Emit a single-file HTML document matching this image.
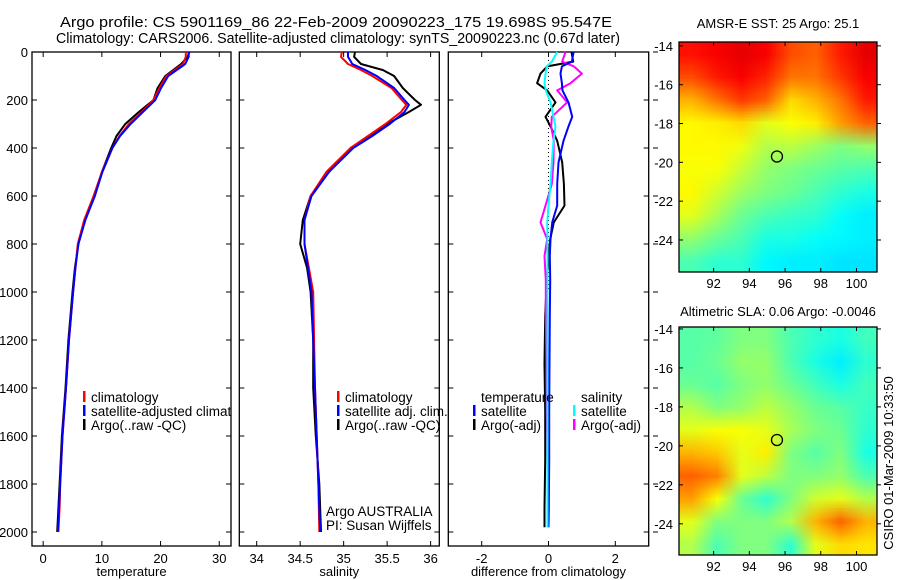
<!DOCTYPE html>
<html><head><meta charset="utf-8">
<style>
html,body{margin:0;padding:0;background:#fff;}
svg{display:block;font-family:"Liberation Sans",sans-serif;}
text{fill:#000;}
</style></head>
<body>
<svg id="fig" width="900" height="580" viewBox="0 0 900 580">
<defs><clipPath id="clipP1"><rect x="32" y="52" width="199" height="494"/></clipPath></defs>
<text x="60" y="27" font-size="15" textLength="552" lengthAdjust="spacingAndGlyphs">Argo profile: CS 5901169_86 22-Feb-2009 20090223_175 19.698S 95.547E</text>
<text x="56" y="43" font-size="15" textLength="564" lengthAdjust="spacingAndGlyphs">Climatology: CARS2006. Satellite-adjusted climatology: synTS_20090223.nc (0.67d later)</text>
<text x="778" y="28" font-size="13" text-anchor="middle">AMSR-E SST: 25 Argo: 25.1</text>
<text x="778" y="316" font-size="13" text-anchor="middle">Altimetric SLA: 0.06 Argo: -0.0046</text>
<text x="0" y="0" font-size="13" text-anchor="middle" transform="translate(893,463) rotate(-90)">CSIRO 01-Mar-2009 10:33:50</text>
</svg>
<script>
// ---- profile data ----
const depthT = [0,20,50,100,150,200,250,300,350,400,500,600,700,800,900,1000,1200,1400,1600,1800,1900,2000];
const tempClim = [24.3,24.3,23.8,21.0,19.8,18.8,16.8,14.6,13.0,11.8,10.0,8.6,7.0,5.9,5.5,5.1,4.4,3.9,3.3,2.9,2.8,2.6];
const tempSat = [24.8,24.8,24.2,21.3,20.1,19.1,17.0,14.9,13.1,11.8,10.1,8.8,7.2,6.0,5.5,5.1,4.4,3.9,3.3,2.9,2.7,2.5];
const tempArgo = [24.9,24.6,23.5,20.8,19.5,18.8,16.3,14.0,12.5,11.6,10.0,8.8,7.1,6.0,5.4,5.0,4.3,3.8,3.2,2.8,2.6,2.4];

const depthS = [0,20,50,75,100,150,200,220,250,300,350,400,500,600,700,800,900,1000,1200,1400,1600,1800,2000];
const salClim = [34.98,34.97,35.05,35.2,35.33,35.55,35.67,35.72,35.66,35.48,35.28,35.08,34.80,34.62,34.55,34.55,34.6,34.65,34.66,34.67,34.69,34.71,34.72];
const salSat = [35.05,35.05,35.1,35.25,35.38,35.58,35.7,35.75,35.7,35.53,35.33,35.11,34.83,34.63,34.55,34.55,34.59,34.63,34.65,34.67,34.69,34.71,34.73];
const salArgo = [35.13,35.12,35.2,35.45,35.58,35.68,35.82,35.89,35.75,35.5,35.3,35.08,34.83,34.62,34.53,34.5,34.58,34.62,34.65,34.65,34.68,34.72,34.74];

const depthD = [0,40,60,90,130,160,210,270,310,370,460,550,640,710,780,850,950,1100,1300,1500,1700,1900,1980];
const dTempSat = [0.75,0.7,0.4,0.36,0.4,0.42,0.6,0.71,0.6,0.45,0.3,0.26,0.26,0.11,0.06,0.04,0.05,0.04,0.03,0.02,0.02,0.01,0.0];
const dTempArgo = [0.69,0.74,-0.04,-0.24,-0.34,-0.04,0.21,-0.09,0.06,0.26,0.41,0.46,0.48,0.16,0.05,0.01,-0.05,-0.1,-0.12,-0.1,-0.1,-0.12,-0.12];
const dSalSat = [0.26,0.1,-0.05,-0.09,-0.12,-0.08,0.06,0.15,0.21,0.15,0.1,0.06,0.0,-0.04,-0.03,-0.03,-0.03,-0.03,-0.03,-0.03,-0.03,-0.03,-0.03];
const dSalArgo = [0.51,0.41,0.76,1.0,0.66,0.26,0.56,0.1,0.08,0.16,0.15,0.1,-0.09,-0.24,-0.04,-0.12,-0.08,-0.08,-0.06,-0.05,-0.03,-0.02,-0.02];

const depthTicks = [0,200,400,600,800,1000,1200,1400,1600,1800,2000];
const tempTicks = [0,10,20,30];
const salTicks = [34,34.5,35,35.5,36];
const diffTicks = [-2,0,2];
const lonTicks = [92,94,96,98,100];
const latTicks = [-14,-16,-18,-20,-22,-24];

// ---- map data (jet colormap fraction, rows north->south, cols west->east) ----
const sstGrid = [
[0.86,0.88,0.9,0.88,0.8,0.78,0.85,0.9],
[0.8,0.85,0.88,0.84,0.76,0.76,0.82,0.88],
[0.7,0.76,0.82,0.78,0.66,0.7,0.76,0.85],
[0.63,0.64,0.66,0.6,0.62,0.64,0.72,0.78],
[0.63,0.63,0.61,0.55,0.56,0.53,0.5,0.52],
[0.62,0.62,0.57,0.52,0.5,0.48,0.46,0.45],
[0.63,0.58,0.53,0.5,0.48,0.45,0.42,0.4],
[0.6,0.54,0.48,0.45,0.43,0.42,0.38,0.36],
[0.52,0.48,0.45,0.4,0.4,0.38,0.37,0.36],
[0.45,0.42,0.42,0.37,0.36,0.36,0.35,0.35]];
const slaGrid = [
[0.46,0.47,0.5,0.5,0.45,0.42,0.4,0.44],
[0.46,0.48,0.52,0.52,0.45,0.4,0.36,0.42],
[0.48,0.46,0.5,0.52,0.48,0.44,0.4,0.44],
[0.55,0.5,0.52,0.56,0.52,0.48,0.46,0.43],
[0.6,0.62,0.62,0.6,0.54,0.5,0.48,0.42],
[0.7,0.68,0.6,0.64,0.5,0.46,0.5,0.4],
[0.78,0.75,0.6,0.56,0.5,0.5,0.52,0.45],
[0.72,0.62,0.48,0.42,0.5,0.58,0.6,0.55],
[0.6,0.5,0.5,0.5,0.55,0.7,0.78,0.7],
[0.55,0.45,0.5,0.5,0.42,0.6,0.66,0.65]];
const argoLon = 95.547, argoLat = -19.698;

const NS = "http://www.w3.org/2000/svg";
const svg = document.getElementById('fig');
function mk(tag, attrs, parent){const e=document.createElementNS(NS,tag);for(const k in attrs)e.setAttribute(k,attrs[k]);(parent||svg).appendChild(e);return e;}
function txt(x,y,s,size,anchor,parent){const e=mk('text',{x:x,y:y,'font-size':size,'text-anchor':anchor||'start'},parent);e.textContent=s;return e;}

const Y0=52, Y1=546;
const yD = d => 52 + 0.24*d;
const panels = [
  {name:'temperature-panel', x0:32, x1:231, dom:[-1.9,32], ticks:tempTicks, label:'temperature'},
  {name:'salinity-panel', x0:239.3, x1:439.3, dom:[33.8,36.1], ticks:salTicks, label:'salinity'},
  {name:'difference-panel', x0:448.3, x1:648.7, dom:[-3,3], ticks:diffTicks, label:'difference from climatology'}
];
panels.forEach(p=>{ p.sx = v => p.x0 + (v-p.dom[0])/(p.dom[1]-p.dom[0])*(p.x1-p.x0); });

function series(p, depths, vals, color, name, w){
  const pts = depths.map((d,i)=>p.sx(vals[i]).toFixed(1)+','+yD(d).toFixed(1)).join(' ');
  const el = mk('polyline',{points:pts,fill:'none',stroke:color,'stroke-width':w||2,'stroke-linejoin':'round'});
  
  
}

panels.forEach((p,pi)=>{
  const g = mk('g',{});
  
  
  const box = mk('rect',{x:p.x0,y:Y0,width:p.x1-p.x0,height:Y1-Y0,fill:'none',stroke:'#000','stroke-width':1.3},g);
  
  
  p.ticks.forEach(t=>{
    const x=p.sx(t);
    mk('line',{x1:x,x2:x,y1:Y1,y2:Y1-5,stroke:'#000'},g);
    mk('line',{x1:x,x2:x,y1:Y0,y2:Y0+5,stroke:'#000'},g);
    const tl = txt(x,563,String(t),13,'middle',g);
    
    
  });
  depthTicks.forEach(d=>{
    const y=yD(d);
    mk('line',{x1:p.x0,x2:p.x0+5,y1:y,y2:y,stroke:'#000'},g);
    mk('line',{x1:p.x1,x2:p.x1-5,y1:y,y2:y,stroke:'#000'},g);
    if(pi===0){
      const yl = txt(28,y+5,String(d),13,'end',g);
      
      
    }
    if(pi===2){ mk('line',{x1:653,x2:658,y1:y,y2:y,stroke:'#000'},g); }
  });
  const al = txt((p.x0+p.x1)/2,576,p.label,13,'middle',g);
  
  
});

// temperature
series(panels[0], depthT, tempArgo, '#000', 'temp-argo-line');
series(panels[0], depthT, tempClim, '#f00', 'temp-climatology-line');
series(panels[0], depthT, tempSat, '#00f', 'temp-satellite-line');
// salinity
series(panels[1], depthS, salArgo, '#000', 'sal-argo-line');
series(panels[1], depthS, salClim, '#f00', 'sal-climatology-line');
series(panels[1], depthS, salSat, '#00f', 'sal-satellite-line');
// difference
const zx = panels[2].sx(0);
const zl = mk('line',{x1:zx,x2:zx,y1:yD(0),y2:yD(1000),stroke:'#000','stroke-dasharray':'1,3'});


series(panels[2], depthD, dTempArgo, '#000', 'diff-temp-argo-line');
series(panels[2], depthD, dSalArgo, '#f0f', 'diff-sal-argo-line');
series(panels[2], depthD, dTempSat, '#00f', 'diff-temp-satellite-line');
series(panels[2], depthD, dSalSat, '#0ff', 'diff-sal-satellite-line');

// legends
function legend(items, x, y, name, clip){
  const g = mk('g',{});
  
  
  if(clip) g.setAttribute('clip-path', 'url(#'+clip+')');
  items.forEach((it,i)=>{
    const yy=y+i*14;
    if(it[1]) mk('rect',{x:x,y:yy-11,width:2.5,height:11,fill:it[1]},g);
    const t = txt(x+8,yy,it[0],13.5,'start',g);
    
    
  });
}
legend([['climatology','#f00'],['satellite-adjusted climatology','#00f'],['Argo(..raw -QC)','#000']],83,402,'temperature-legend','clipP1');
legend([['climatology','#f00'],['satellite adj. clim.','#00f'],['Argo(..raw -QC)','#000']],337,402,'salinity-legend');
legend([['temperature',null],['satellite','#00f'],['Argo(-adj)','#000']],473,402,'diff-temperature-legend');
legend([['salinity',null],['satellite','#0ff'],['Argo(-adj)','#f0f']],573,402,'diff-salinity-legend');
const a1 = txt(326,516,'Argo AUSTRALIA',13.5);  
const a2 = txt(326,530,'PI: Susan Wijffels',13.5);  

// ---- maps ----
function jet(v){
  const r=Math.min(1,Math.max(0,1.5-Math.abs(4*v-3)));
  const g=Math.min(1,Math.max(0,1.5-Math.abs(4*v-2)));
  const b=Math.min(1,Math.max(0,1.5-Math.abs(4*v-1)));
  return 'rgb('+Math.round(r*255)+','+Math.round(g*255)+','+Math.round(b*255)+')';
}
function drawMap(grid, y0, y1, latTop, latBottom, name){
  const x0=679, x1=877, lonL=90.06, lonR=101.15;
  const sx = lon => x0+(lon-lonL)/(lonR-lonL)*(x1-x0);
  const sy = lat => y0+(latTop-lat)/(latTop-latBottom)*(y1-y0);
  const g = mk('g',{});
  
  
  const rows=grid.length, cols=grid[0].length;
  const fo = mk('foreignObject',{x:x0,y:y0,width:x1-x0,height:y1-y0},g);
  const cv = document.createElement('canvas');
  cv.width=x1-x0; cv.height=y1-y0;
  
  
  cv.style.display='block';
  fo.appendChild(cv);
  const small=document.createElement('canvas'); small.width=cols; small.height=rows;
  const sc=small.getContext('2d');
  grid.forEach((row,r)=>row.forEach((v,c)=>{sc.fillStyle=jet(v); sc.fillRect(c,r,1,1);}));
  const ctx=cv.getContext('2d'); ctx.imageSmoothingEnabled=true;
  ctx.drawImage(small,0,0,cols,rows,0,0,cv.width,cv.height);
  const fr = mk('rect',{x:x0,y:y0,width:x1-x0,height:y1-y0,fill:'none',stroke:'#000','stroke-width':1.3},g);
  
  
  lonTicks.forEach(l=>{
    const x=sx(l);
    mk('line',{x1:x,x2:x,y1:y1,y2:y1-4,stroke:'#000'},g);
    mk('line',{x1:x,x2:x,y1:y0,y2:y0+4,stroke:'#000'},g);
    const t=txt(x,y1+16,String(l),13,'middle',g);
    
    
  });
  latTicks.forEach(l=>{
    const y=sy(l);
    mk('line',{x1:x0,x2:x0+4,y1:y,y2:y,stroke:'#000'},g);
    mk('line',{x1:x1,x2:x1+4,y1:y,y2:y,stroke:'#000'},g);
    const t=txt(x0-6,y+5,String(l),13,'end',g);
    
    
  });
  const c = mk('circle',{cx:sx(argoLon),cy:sy(argoLat),r:5.5,fill:'none',stroke:'#000','stroke-width':1.3},g);
  
  
}
drawMap(sstGrid, 42, 272, -13.8, -25.65, 'sst-map');
drawMap(slaGrid, 327, 555, -13.9, -25.6, 'sla-map');
</script>
</body></html>
